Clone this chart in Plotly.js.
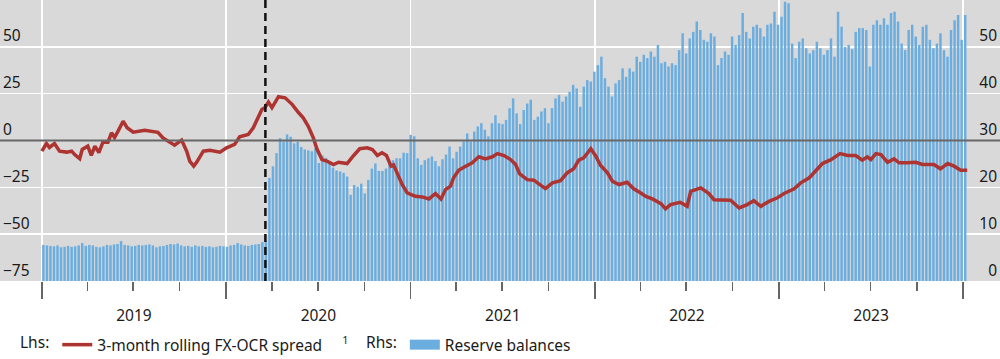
<!DOCTYPE html>
<html><head><meta charset="utf-8">
<script src="https://cdn.plot.ly/plotly-3.0.1.min.js"></script>
<style>html,body{margin:0;padding:0;background:#fff}</style>
</head><body><div id="chart" style="width:1000px;height:359px"></div>
<script>
// Reserve balances (Rhs), weekly, first week ending 2019-01-04
const reserveStart = '2019-01-04';
const reserveBalances = [
  7.7, 7.6, 7.5, 7.4, 7.6, 7.2, 7.3, 7.5, 7.3, 7.4,
  7.6, 8.1, 7.5, 7.7, 7.6, 7.3, 7.2, 7.4, 7.7, 7.6,
  7.8, 7.9, 8.5, 7.7, 7.6, 7.4, 7.5, 7.7, 7.6, 7.7,
  7.8, 7.6, 7.2, 7.4, 7.5, 7.7, 7.9, 7.8, 8.0, 7.6,
  7.4, 7.5, 7.3, 7.6, 7.4, 7.5, 7.3, 7.4, 7.2, 7.3,
  7.5, 7.4, 7.3, 7.6, 7.7, 8.1, 7.8, 7.6, 7.5, 7.7,
  7.8, 7.9, 8.3, 8.6,
  22.0, 24.5, 27.3, 30.5, 29.8, 31.3, 30.8, 29.4, 29.7, 28.6,
  28.1, 27.9, 27.7, 28.3, 25.2, 26.8, 26.3, 25.1, 24.2, 23.6,
  23.4, 23.1, 22.3, 18.4, 20.5, 20.1, 20.8, 18.7, 21.6, 24.0,
  25.1, 23.5, 23.5, 24.0, 25.6, 25.8, 26.2, 26.2, 27.4, 27.3,
  31.2, 30.9, 26.2, 24.8, 25.8, 26.2, 26.6, 25.6, 24.5, 26.0,
  27.0, 28.7, 26.2, 27.6, 28.7, 29.8, 31.5, 29.8, 31.9, 33.0,
  33.7, 32.3, 30.9, 33.7, 35.4, 33.7, 33.5, 34.4, 36.9, 39.0,
  35.8, 33.5, 36.5, 37.9, 38.7, 34.4, 35.1, 36.2, 36.9, 33.7,
  36.9, 39.0, 39.7, 38.3, 39.4, 40.4, 41.9, 41.1, 37.2, 41.5,
  42.9, 42.6, 44.7, 46.1, 47.9, 43.3, 41.5, 39.4, 42.2, 42.9,
  45.4, 43.6, 45.4, 44.7, 47.9, 46.8, 48.3, 47.6, 49.0, 47.9,
  50.4, 46.5, 46.8, 45.8, 46.5, 46.1, 49.3, 52.9, 48.6, 51.8,
  53.2, 55.4, 53.6, 51.5, 51.1, 52.9, 52.2, 46.1, 47.6, 49.0,
  48.3, 52.2, 50.4, 52.5, 57.2, 53.2, 51.8, 54.3, 54.7, 54.0,
  52.2, 54.7, 55.0, 57.5, 54.7, 56.4, 59.6, 59.3, 50.7, 47.6,
  51.1, 51.8, 49.7, 48.6, 49.3, 51.1, 49.7, 48.3, 49.3, 51.8,
  47.9, 57.5, 54.3, 50.0, 50.4, 49.5, 53.2, 54.0, 54.0, 53.6,
  45.8, 54.7, 55.7, 54.7, 56.1, 54.7, 57.2, 57.5, 55.4, 50.7,
  49.3, 53.6, 54.7, 52.2, 50.4, 54.3, 54.7, 51.5, 49.7, 50.7,
  52.9, 49.3, 47.9, 53.6, 55.7, 56.8, 51.5, 56.8
];

// 3-month rolling FX-OCR spread (Lhs)
const spreadDates = [
  '2019-01-01','2019-01-10','2019-01-16','2019-01-26','2019-02-05','2019-02-19','2019-03-01','2019-03-07','2019-03-17','2019-03-22',
  '2019-04-02','2019-04-09','2019-04-16','2019-04-24','2019-05-02','2019-05-12','2019-05-19','2019-05-25','2019-06-01','2019-06-11',
  '2019-06-19','2019-07-01','2019-07-24','2019-08-19','2019-08-29','2019-09-12','2019-09-21','2019-10-05','2019-10-15','2019-10-21',
  '2019-10-29','2019-11-04','2019-11-17','2019-11-30','2019-12-20',
  '2020-01-02','2020-01-18','2020-01-28','2020-02-14','2020-02-24','2020-03-05','2020-03-12','2020-03-18','2020-03-25','2020-04-01',
  '2020-04-14','2020-04-27','2020-05-11','2020-05-24','2020-06-02','2020-06-12','2020-06-22','2020-06-29','2020-07-09','2020-07-19',
  '2020-08-01','2020-08-11','2020-08-28','2020-09-10','2020-09-22','2020-10-07','2020-10-17','2020-10-27','2020-11-05','2020-11-14',
  '2020-11-23','2020-11-28','2020-12-08','2020-12-15','2020-12-25',
  '2021-01-10','2021-01-24','2021-02-06','2021-02-19','2021-03-02','2021-03-11','2021-03-21','2021-03-27','2021-04-06','2021-04-20',
  '2021-05-03','2021-05-16','2021-05-29','2021-06-12','2021-06-22','2021-07-05','2021-07-18','2021-07-28','2021-08-05','2021-08-20',
  '2021-09-02','2021-09-12','2021-09-25','2021-10-09','2021-10-25','2021-11-07','2021-11-20','2021-11-30','2021-12-10','2021-12-24',
  '2022-01-03','2022-01-12','2022-01-26','2022-02-05','2022-02-18','2022-03-06','2022-03-19','2022-04-02','2022-04-12','2022-04-25',
  '2022-05-12','2022-05-21','2022-05-31','2022-06-19','2022-07-03','2022-07-10','2022-07-30','2022-08-15','2022-08-25','2022-09-27',
  '2022-10-14','2022-10-30','2022-11-12','2022-11-26','2022-12-12','2022-12-29',
  '2023-01-11','2023-01-31','2023-02-13','2023-03-02','2023-03-15','2023-03-28','2023-04-14','2023-05-02','2023-05-17','2023-06-02',
  '2023-06-15','2023-06-25','2023-07-02','2023-07-12','2023-07-22','2023-08-04','2023-08-17','2023-08-27','2023-09-12','2023-09-29',
  '2023-10-12','2023-11-04','2023-11-17','2023-12-01','2023-12-14','2023-12-27','2024-01-09'
];
const spreadValues = [
  -5.7, -1.6, -3.7, -1.6, -5.7, -6.2, -5.7, -7.5, -9.7, -4.8,
  -3.0, -8.0, -3.0, -6.4, -0.9, -0.9, 4.1, 1.6, 5.0, 10.3,
  6.8, 4.4, 5.5, 4.4, 1.4, -1.2, -2.5, 0.2, -5.7, -11.0,
  -13.7, -11.5, -5.7, -5.2, -6.2,
  -3.9, -2.1, 2.0, 3.2, 6.8, 12.1, 16.6, 17.5, 20.5, 17.5,
  23.4, 22.8, 19.3, 14.8, 12.1, 7.6, 1.4, -4.4, -10.2, -11.0,
  -12.8, -11.6, -12.3, -8.0, -4.4, -3.9, -4.8, -8.0, -6.6, -8.0,
  -13.7, -13.0, -19.1, -23.5, -28.0,
  -29.8, -30.1, -31.2, -28.3, -31.2, -26.2, -24.4, -19.9, -15.9, -13.7,
  -11.9, -8.7, -9.8, -8.7, -7.0, -8.0, -10.2, -12.8, -17.8, -20.9,
  -21.2, -23.2, -25.7, -22.6, -21.4, -17.3, -15.1, -10.5, -9.3, -4.4,
  -8.4, -13.2, -17.3, -21.8, -23.5, -22.3, -25.8, -28.0, -29.8, -31.2,
  -33.7, -36.5, -34.2, -33.0, -35.1, -27.1, -25.3, -28.3, -31.6, -31.9,
  -36.0, -34.2, -32.1, -35.1, -32.5, -30.6,
  -28.3, -25.8, -22.6, -19.9, -16.4, -12.3, -10.2, -7.0, -8.0, -8.0,
  -10.5, -8.7, -10.2, -7.0, -7.5, -11.6, -9.8, -11.9, -11.9, -11.6,
  -12.8, -12.8, -15.1, -12.3, -13.7, -15.9, -15.9
];

const eventDate = '2020-03-19';
const leftTicks = [-75, -50, -25, 0, 25, 50];
const rightTicks = [0, 10, 20, 30, 40, 50];
const lineName = '3-month rolling FX-OCR spread\u00a0\u00a0\u00a0\u00a0\u00a0<sup>1</sup>';
const barName = 'Reserve balances';

function weeklyDates(start, n) {
  const out = [];
  const d0 = new Date(start + 'T00:00:00Z');
  for (let i = 0; i < n; i++) {
    const d = new Date(d0.getTime() + i * 7 * 86400000);
    out.push(d.toISOString().slice(0, 10));
  }
  return out;
}
const reserveDates = weeklyDates(reserveStart, reserveBalances.length);

const BLUE = '#6cade0';
const RED = '#ae3431';
const FONT = 'Noto Sans, Open Sans, sans-serif';

const traces = [
  {
    type: 'bar', x: reserveDates, y: reserveBalances, yaxis: 'y',
    marker: {color: BLUE, line: {width: 0}}, showlegend: false, hoverinfo: 'x+y'
  },
  {
    type: 'scatter', mode: 'lines', x: [null], y: [null], yaxis: 'y',
    line: {color: BLUE, width: 12}, name: barName, legend: 'legend2', showlegend: true
  },
  {
    type: 'scatter', mode: 'lines', x: spreadDates, y: spreadValues, yaxis: 'y2',
    line: {color: RED, width: 3.5, shape: 'linear'}, name: lineName, legend: 'legend', showlegend: true
  }
];

const layout = {
  width: 1000, height: 359,
  margin: {l: 0, r: 0, t: 0, b: 78, pad: 0, autoexpand: false},
  paper_bgcolor: '#ffffff', plot_bgcolor: '#d9d9d9',
  font: {family: FONT, size: 15, color: '#1a1a1a'},
  bargap: 0.3,
  showlegend: true,
  xaxis: {
    type: 'date', range: ['2018-10-10', '2024-03-14'],
    tickmode: 'linear', tick0: '2019-01-01', dtick: 'M12', tickformat: '%Y',
    ticklabelmode: 'period', ticklabelstandoff: 3,
    ticks: 'outside', ticklen: 17, tickwidth: 1.5, tickcolor: '#666666',
    showgrid: true, gridcolor: '#ffffff', gridwidth: 1.5,
    zeroline: false, showline: false, automargin: false,
    minor: {dtick: 'M3', tick0: '2019-01-01', ticks: 'outside', ticklen: 9, tickwidth: 1.5, tickcolor: '#666666', showgrid: false},
    tickfont: {size: 15.5, family: FONT, color: '#1a1a1a'},
    fixedrange: true
  },
  yaxis: {
    side: 'right', range: [0, 60], tickmode: 'array', tickvals: rightTicks,
    ticklabelposition: 'inside top', ticks: '',
    showgrid: true, gridcolor: '#ffffff', gridwidth: 1.5,
    zeroline: false, showline: false, automargin: false,
    tickfont: {size: 15.5, family: FONT, color: '#1a1a1a'},
    fixedrange: true
  },
  yaxis2: {
    overlaying: 'y', side: 'left', range: [-75, 75], tickmode: 'array', tickvals: leftTicks,
    ticklabelposition: 'inside top', ticks: '',
    showgrid: false, zeroline: false, showline: false, automargin: false,
    tickfont: {size: 15.5, family: FONT, color: '#1a1a1a'},
    fixedrange: true
  },
  shapes: [
    {type: 'line', xref: 'paper', x0: 0, x1: 1, yref: 'y2', y0: 0, y1: 0,
     line: {color: '#686868', width: 2}, layer: 'above'},
    {type: 'line', xref: 'x', x0: eventDate, x1: eventDate, yref: 'paper', y0: 0, y1: 1,
     line: {color: '#111111', width: 2.5, dash: '8px,5px'}, layer: 'above'}
  ],
  legend: {
    orientation: 'h', x: 0.018, xanchor: 'left', y: -0.228, yanchor: 'middle',
    title: {text: 'Lhs:', side: 'left', font: {size: 15.5, family: FONT}},
    font: {size: 15.5, family: FONT, color: '#1a1a1a'},
    bgcolor: 'rgba(0,0,0,0)', borderwidth: 0, itemwidth: 30
  },
  legend2: {
    orientation: 'h', x: 0.364, xanchor: 'left', y: -0.228, yanchor: 'middle',
    title: {text: 'Rhs:', side: 'left', font: {size: 15.5, family: FONT}},
    font: {size: 15.5, family: FONT, color: '#1a1a1a'},
    bgcolor: 'rgba(0,0,0,0)', borderwidth: 0, itemwidth: 30
  }
};

Plotly.newPlot('chart', traces, layout, {displayModeBar: false, staticPlot: true});
</script></body></html>
